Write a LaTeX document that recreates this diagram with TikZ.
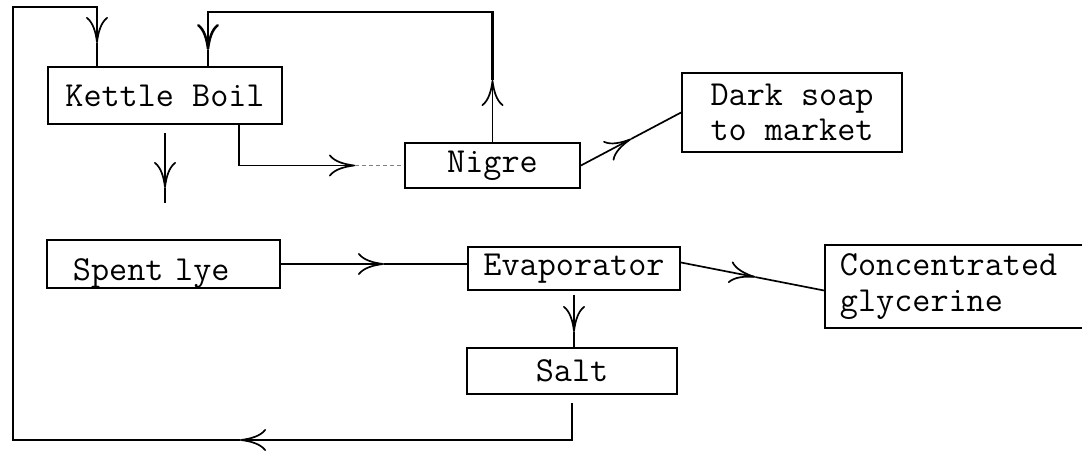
\documentclass[tikz,border=0pt]{standalone}
\usetikzlibrary{arrows.meta,positioning,calc}

\begin{document}
\begin{tikzpicture}[x=0.025cm, y=-0.025cm]
\useasboundingbox (0,0) rectangle (1082,451);
\tikzstyle{block} = [draw, rectangle, line width=1.3pt, inner sep=0pt,
  font=\fontsize{25}{25}\selectfont\ttfamily];
\tikzstyle{flow} = [draw, line width=1.2pt]
\tikzstyle{line} = [flow, -{To[length=6.5mm,width=5.5mm]}]
\tikzstyle{gap} = [shorten <=2mm]
\tikzstyle{faint} = [draw, gray, thin, dash pattern=on 3pt off 2pt]
\node [block, minimum width=5.85cm, minimum height=1.425cm] at (165,95.5) (kettle) {Kettle Boil};
\node [block, minimum width=4.375cm, minimum height=1.125cm] at (492.5,165.5) (nigre) {Nigre};
\node [block, minimum width=5.5cm, minimum height=1.975cm, align=left] at (792,112.5) (soap) {Dark soap\\to market};
\node [block, inner xsep=0.65cm, text width=4.525cm, text height=1cm, text depth=0.2cm, align=left] at (163.5,264) (spent) {Spent lye};
\node [block, minimum width=5.3cm, minimum height=1.075cm] at (574,268.5) (evap) {Evaporator};
\node [block, minimum width=5.25cm, minimum height=1.15cm] at (572,371) (salt) {Salt};
\node [block, inner xsep=0.375cm, text width=6cm, minimum height=2.075cm, align=left] at (960,286.5) (glyc) {Concentrated\\glycerine};
% bends and arrow points
\coordinate (loopbl) at (13,440);
\coordinate (looptl) at (13,7);
\coordinate (backtip) at (240,440);
\coordinate (kin1) at (97,43);
\coordinate (uptip) at (492.5,80);
\coordinate (retcorner) at (492.5,12);
\coordinate (kin2) at (208,50);
\coordinate (ktip) at (355,165.5);
\coordinate (dtip) at (165,188);
\coordinate (dend) at (165,203);
\coordinate (ltip) at (384,264);
\coordinate (vtip) at (574,332);
\coordinate (gout) at ([yshift=0.15cm]evap.east);
\coordinate (gin) at ([yshift=-0.1cm]glyc.west);
\coordinate (gtip) at ($(gout)!0.52!(gin)$);
\coordinate (stip) at ($(nigre.east)!0.5!(soap.west)$);
\path [line, gap] (salt.south) |- (backtip);
\path [line] (backtip) -- (loopbl) -- (looptl) -| (kin1);
\path [flow] (kin1) -- (kettle.north -| kin1);
\path [line] (nigre.north) -- (uptip);
\path [line, line width=1.8pt] (uptip) -- (retcorner) -| (kin2);
\path [flow] (kin2) -- (kettle.north -| kin2);
\path [line] ([xshift=1.85cm]kettle.south) |- (ktip);
\path [faint] (ktip) -- (nigre.west);
\path [line, gap] (kettle.south) -- (dtip);
\path [flow] (dtip) -- (dend);
\path [line] (nigre.east) -- (stip);
\path [flow] (stip) -- (soap.west);
\path [line] (spent.east) -- (ltip);
\path [flow] (ltip) -- (ltip -| evap.west);
\path [line] (gout) -- (gtip);
\path [flow] (gtip) -- (gin);
\path [line, shorten <=1mm] (evap.south) -- (vtip);
\path [flow] (vtip) -- (vtip |- salt.north);
\end{tikzpicture}
\end{document}
